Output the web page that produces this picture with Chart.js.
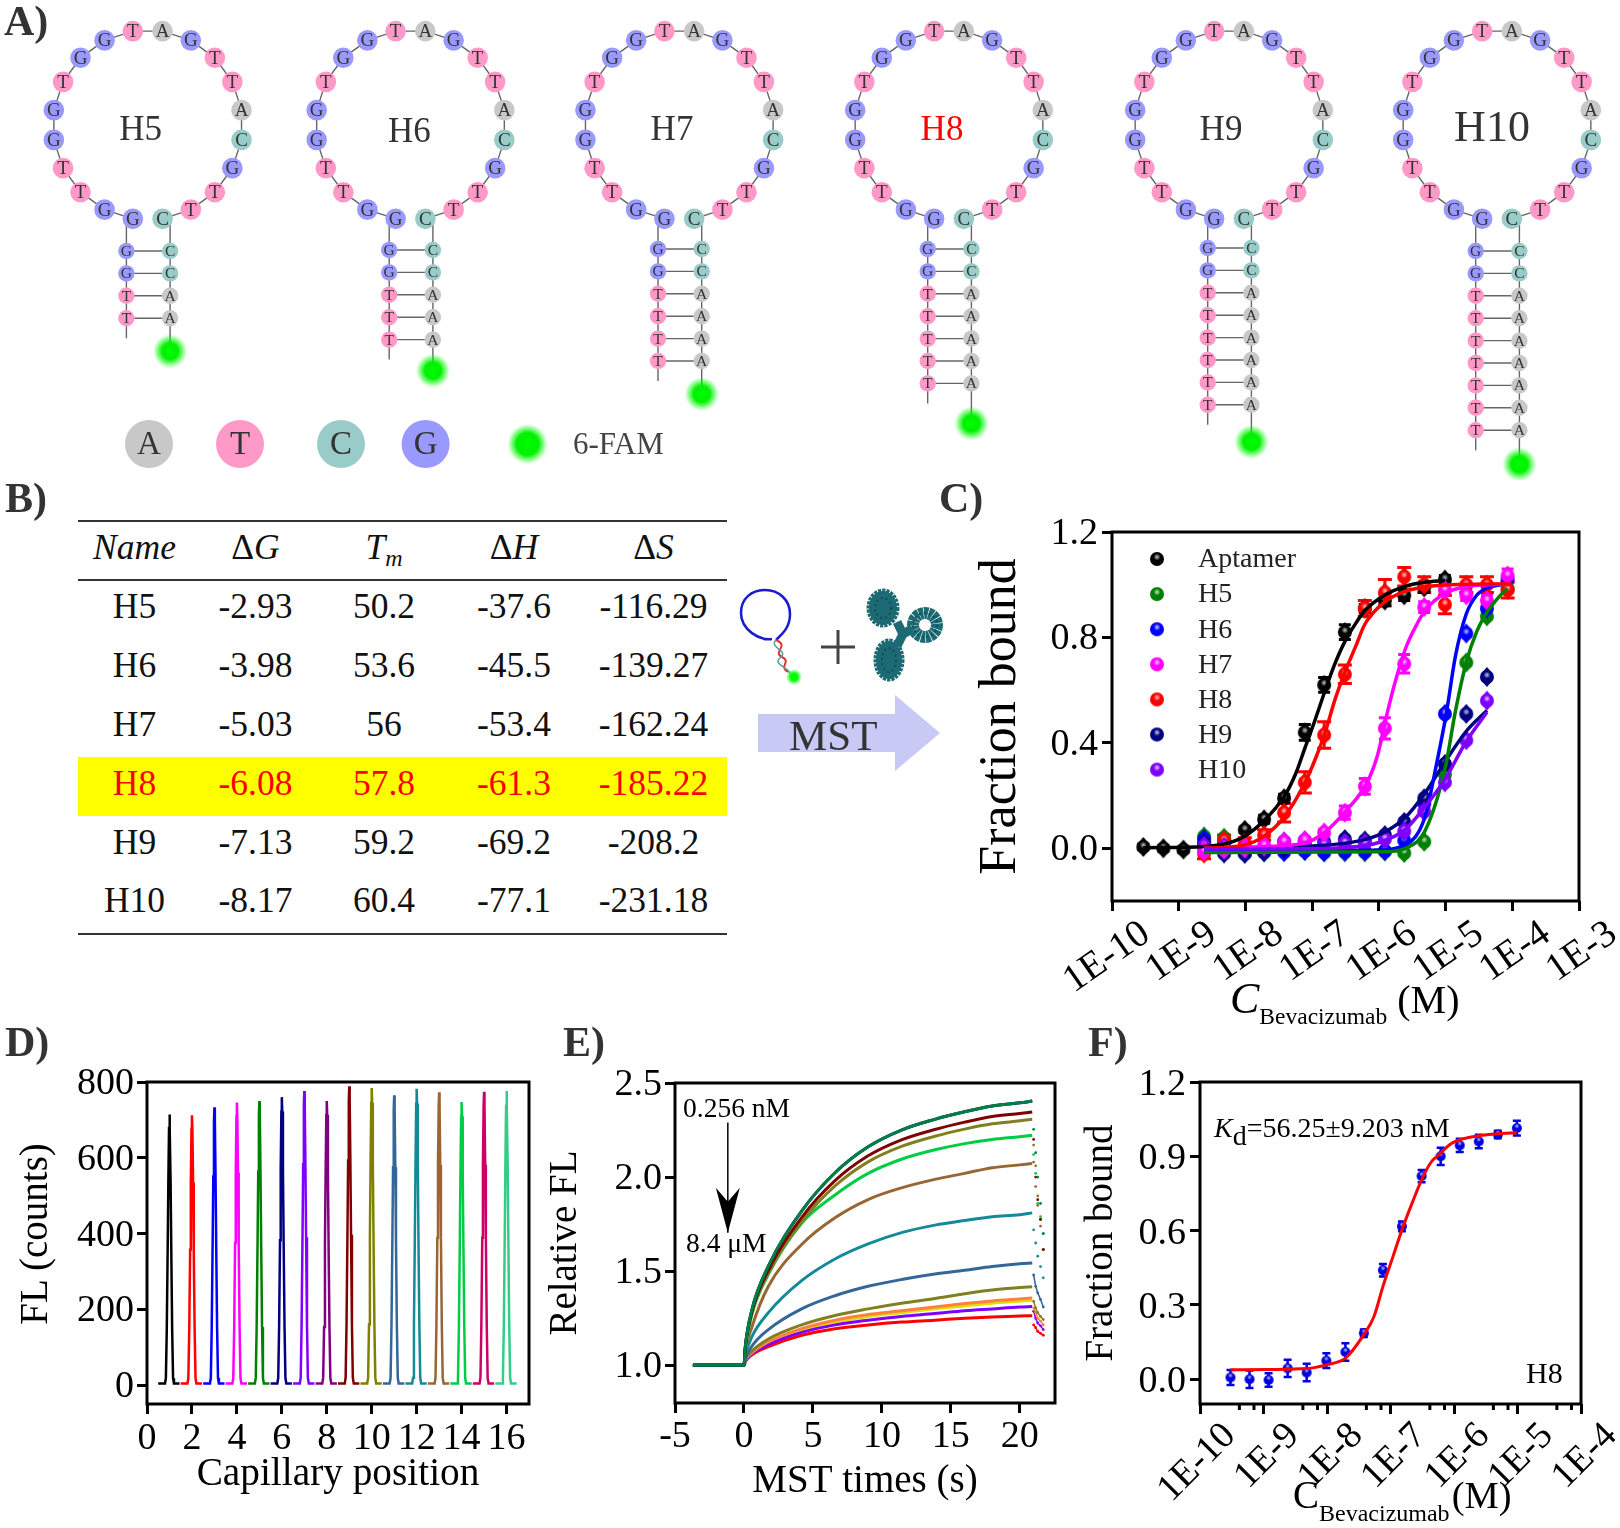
<!DOCTYPE html>
<html>
<head>
<meta charset="utf-8">
<title>Hairpin aptamers</title>
<script src="https://cdn.jsdelivr.net/npm/chart.js@4"></script>
<style>
    html, body { margin: 0; padding: 0; background: #fff; }
    body { position: relative; width: 1620px; height: 1528px; overflow: hidden; font-family: "Liberation Serif", serif; color: #000; }
    canvas, svg, .txt, table { position: absolute; }
    .txt { white-space: nowrap; line-height: 1.15; }
    .panel { font-weight: bold; font-size: 42px; color: #333; }
    .hp { color: #333; transform: translate(-50%, -50%); }
    table { left: 78px; top: 520px; width: 649px; border-collapse: collapse; table-layout: fixed; font-size: 35.5px; color: #111; border-top: 2px solid #333; border-bottom: 2px solid #333; }
    th, td { box-sizing: border-box; padding: 0 0 6px 0; text-align: center; font-weight: normal; height: 59px; line-height: 1; }
    th { border-bottom: 2px solid #333; }
    tr.hit td { background: #ffff00; color: #ff0000; }
    .sub-m { font-size: 24px; font-style: italic; position: relative; top: 7px; }
</style>
</head>
<body>
<canvas id="chartA" width="1620" height="480" style="left:0;top:0"></canvas>
<canvas id="chartC" width="650" height="485" style="left:970px;top:515px"></canvas>
<canvas id="chartD" width="540" height="442" style="left:6px;top:1060px"></canvas>
<canvas id="chartE" width="533" height="449" style="left:542px;top:1060px"></canvas>
<canvas id="chartF" width="542" height="468" style="left:1078px;top:1060px"></canvas>

<table id="energyTable">
    <colgroup><col style="width:113px"><col style="width:129px"><col style="width:128px"><col style="width:132px"><col style="width:147px"></colgroup>
    <thead><tr><th><i>Name</i></th><th>Δ<i>G</i></th><th><i>T</i><span class="sub-m">m</span></th><th>Δ<i>H</i></th><th>Δ<i>S</i></th></tr></thead>
    <tbody></tbody>
</table>

<!-- MST schematic -->
<svg width="1620" height="1528" style="left:0;top:0;pointer-events:none">
    <defs>
        <radialGradient id="dot"><stop offset="45%" stop-color="#00ff00"/><stop offset="100%" stop-color="#00ff00" stop-opacity="0"/></radialGradient>
    </defs>
    <path d="M772 639 C760 641 741 630 741 613 C741 598 752 590 765 590 C779 590 790 600 790 614 C790 628 782 634 776 640" fill="none" stroke="#1a1ad0" stroke-width="2.5"/>
    <path d="M776 640 C790 646 772 652 782 657 C792 662 778 666 788 672" fill="none" stroke="#e03030" stroke-width="2"/>
    <path d="M776 640 C768 648 790 650 780 658 C772 664 790 668 790 674" fill="none" stroke="#50a0a0" stroke-width="1.5"/>
    <circle cx="794" cy="677" r="8" fill="url(#dot)"/>
    <path d="M838 630V664M821 647H855" stroke="#444" stroke-width="3"/>
    <g fill="#1d6a74" stroke="#1d6a74" stroke-dasharray="3 1">
        <ellipse cx="883" cy="608" rx="14" ry="17" stroke-width="5"/>
        <ellipse cx="889" cy="660" rx="13" ry="19" stroke-width="5"/>
        <path d="M897 622L903 634L912 629M903 634L897 646" fill="none" stroke-width="9" stroke-dasharray="none"/>
        <ellipse cx="925" cy="625" rx="12" ry="12" fill="none" stroke-width="12" stroke-dasharray="4 0.6"/>
    </g>
    <g fill="none" stroke="#0f4d57" stroke-width="2" stroke-dasharray="2 3">
        <ellipse cx="883" cy="608" rx="8" ry="10"/>
        <ellipse cx="889" cy="660" rx="7" ry="12"/>
        <ellipse cx="925" cy="625" rx="12" ry="12"/>
    </g>
    <path d="M758 714H895V695L940 733L895 771V752H758Z" fill="#c9c9f6"/>
</svg>
<div class="txt" style="left:789px;top:711px;font-size:43px;color:#333">MST</div>

<div class="txt panel" style="left:4px;top:-3px">A)</div>
<div class="txt panel" style="left:5px;top:474px">B)</div>
<div class="txt panel" style="left:939px;top:474px">C)</div>
<div class="txt panel" style="left:5px;top:1018px">D)</div>
<div class="txt panel" style="left:563px;top:1018px">E)</div>
<div class="txt panel" style="left:1088px;top:1018px">F)</div>

<div class="txt" style="left:573px;top:426px;font-size:31px;color:#444">6-FAM</div>

<div class="txt" style="left:34px;top:1234px;font-size:39px;transform:translate(-50%,-50%) rotate(-90deg)">FL (counts)</div>
<div class="txt" style="left:1230px;top:974px;font-size:44px"><i>C</i><span style="font-size:23.5px;position:relative;top:11px">Bevacizumab</span><span style="margin-left:10px;font-size:40px">(M)</span></div>
<div class="txt" style="left:1293px;top:1473px;font-size:39px">C<span style="font-size:24px;position:relative;top:13px">Bevacizumab</span><span style="font-size:38.5px;margin-left:2px">(M)</span></div>
<div class="txt" style="left:1214px;top:1112px;font-size:28px"><i>K</i><span style="position:relative;top:8px">d</span>=56.25±9.203 nM</div>
<div class="txt" style="left:1526px;top:1356px;font-size:30px">H8</div>
<div class="txt" style="left:683px;top:1092px;font-size:27.5px">0.256 nM</div>
<div class="txt" style="left:686px;top:1227px;font-size:27.5px">8.4 μM</div>

<script>
// ---------- panel A: hairpins ----------
const hairpinNames = ["H5", "H6", "H7", "H8", "H9", "H10"];
const loopSequence = "GGTTGGTGGTAGTTACGTTC";
const stemLeft = ["GGTT", "GGTTT", "GGTTTT", "GGTTTTT", "GGTTTTTT", "GGTTTTTTT"];
const stemRight = ["CCAA", "CCAAA", "CCAAAA", "CCAAAAA", "CCAAAAAA", "CCAAAAAAA"];
const legendBases = ["A", "T", "C", "G"];

// ---------- panel B: table ----------
const tableNames = ["H5", "H6", "H7", "H8", "H9", "H10"];
const deltaG = ["-2.93", "-3.98", "-5.03", "-6.08", "-7.13", "-8.17"];
const meltTemp = ["50.2", "53.6", "56", "57.8", "59.2", "60.4"];
const deltaH = ["-37.6", "-45.5", "-53.4", "-61.3", "-69.2", "-77.1"];
const deltaS = ["-116.29", "-139.27", "-162.24", "-185.22", "-208.2", "-231.18"];

// ---------- panel C: binding curves, x is log10(M) ----------
const seriesC = ["Aptamer", "H5", "H6", "H7", "H8", "H9", "H10"];
const logAptamer = [-9.53, -9.23, -8.93, -8.62, -8.32, -8.01, -7.72, -7.42, -7.11, -6.82, -6.51, -6.21, -5.91, -5.62, -5.32, -5.01];
const logHairpin = [-8.62, -8.32, -8.01, -7.72, -7.42, -7.11, -6.82, -6.51, -6.21, -5.91, -5.62, -5.32, -5.01, -4.69, -4.38, -4.07];
const ptsAptamer = [0.005, 0, -0.005, 0.013, 0.03, 0.07, 0.11, 0.19, 0.44, 0.62, 0.82, 0.91, 0.94, 0.96, 0.99, 1.02];
const ptsH5 = [0.045, 0.04, -0.01, -0.015, 0.025, -0.01, -0.015, -0.015, -0.015, -0.012, -0.018, 0.025, 0.28, 0.705, 0.88, 0.985];
const ptsH6 = [0.035, 0.02, -0.02, -0.015, -0.015, -0.01, -0.015, -0.012, -0.012, -0.01, 0.03, 0.17, 0.51, 0.815, 0.91, 1.02];
const ptsH7 = [-0.01, -0.005, 0, 0.01, 0.025, 0.03, 0.06, 0.135, 0.235, 0.455, 0.7, 0.915, 0.98, 0.96, 0.94, 1.035];
const ptsH8 = [-0.02, 0.03, 0.02, 0.05, 0.135, 0.25, 0.43, 0.66, 0.91, 0.97, 1.03, 1.0, 0.925, 1.0, 1.0, 0.98];
const ptsH9 = [0.02, -0.02, -0.02, -0.012, 0, 0.02, 0.025, 0.035, 0.03, 0.05, 0.1, 0.19, 0.32, 0.51, 0.65];
const ptsH10 = [0.01, 0.005, 0, 0.005, 0.025, 0.03, 0.015, 0.02, 0.02, 0.035, 0.065, 0.14, 0.25, 0.41, 0.56];
const errAptamer = [0.01, 0.01, 0.01, 0.01, 0.01, 0.01, 0.015, 0.015, 0.03, 0.028, 0.028, 0.015, 0.02, 0.02, 0.02, 0.015];
const errH8 = [0.02, 0.02, 0.02, 0.02, 0.035, 0.04, 0.05, 0.035, 0.03, 0.05, 0.035, 0.03, 0.035, 0.03, 0.03, 0.03];
const errSmall = [0.015, 0.015, 0.01, 0.01, 0.01, 0.01, 0.01, 0.01, 0.01, 0.01, 0.01, 0.015, 0.015, 0.015, 0.015, 0.015];
const errH7 = [0.01, 0.01, 0.01, 0.01, 0.01, 0.01, 0.01, 0.025, 0.03, 0.04, 0.035, 0.02, 0.02, 0.02, 0.02, 0.025];

const fitAptamerX = [-9.53, -9.23, -8.93, -8.62, -8.32, -8.01, -7.72, -7.42, -7.25, -7.11, -6.96, -6.82, -6.67, -6.51, -6.34, -6.21, -5.91, -5.62, -5.32, -5.01];
const fitAptamerY = [0.002, 0.003, 0.004, 0.007, 0.016, 0.046, 0.105, 0.196, 0.281, 0.379, 0.484, 0.588, 0.693, 0.784, 0.856, 0.902, 0.961, 0.993, 1.009, 1.016];
const fitH8X = [-8.62, -8.01, -7.72, -7.42, -7.11, -6.93, -6.8, -6.66, -6.51, -6.34, -6.21, -5.91, -5.62, -5.32, -5.01, -4.0];
const fitH8Y = [0, 0.013, 0.046, 0.118, 0.248, 0.353, 0.444, 0.562, 0.667, 0.771, 0.85, 0.935, 0.974, 0.991, 0.999, 1.003];
const fitH7X = [-8.62, -7.71, -7.11, -6.82, -6.51, -6.18, -6.02, -5.89, -5.76, -5.6, -5.43, -5.29, -5.01, -4.69, -4.38, -4.07];
const fitH7Y = [0, 0.007, 0.02, 0.059, 0.137, 0.248, 0.353, 0.497, 0.627, 0.758, 0.85, 0.908, 0.967, 0.993, 1.0, 1.003];
const fitH6X = [-8.62, -6.08, -5.6, -5.31, -5.14, -4.99, -4.85, -4.69, -4.53, -4.38, -4.07];
const fitH6Y = [-0.01, -0.007, 0.013, 0.118, 0.314, 0.51, 0.732, 0.889, 0.961, 0.987, 1.004];
const fitH5X = [-8.62, -5.89, -5.6, -5.31, -5.01, -4.85, -4.69, -4.53, -4.38, -4.2, -4.07];
const fitH5Y = [-0.016, -0.013, 0, 0.065, 0.3, 0.523, 0.706, 0.824, 0.895, 0.954, 0.987];
const fitH9X = [-8.62, -7.38, -6.73, -6.21, -5.89, -5.6, -5.31, -5.01, -4.69, -4.38];
const fitH9Y = [-0.003, 0.003, 0.013, 0.033, 0.065, 0.118, 0.209, 0.327, 0.444, 0.523];
const fitH10X = [-8.62, -6.73, -6.08, -5.76, -5.6, -5.31, -5.01, -4.69, -4.38];
const fitH10Y = [-0.003, 0, 0.016, 0.046, 0.072, 0.157, 0.261, 0.405, 0.516];

const logTicksC = [-10, -9, -8, -7, -6, -5, -4, -3];
const fracTicksC = [0, 0.4, 0.8, 1.2];

// ---------- panel D: capillary scan ----------
const capillaries = [1, 2, 3, 4, 5, 6, 7, 8, 9, 10, 11, 12, 13, 14, 15, 16];
const peakHeights = [714, 712, 733, 746, 750, 760, 776, 750, 789, 784, 765, 782, 773, 747, 774, 776];
const peakOffsets = [-0.5, -0.2, -0.16, -0.12, -0.08, -0.05, -0.02, 0, 0.02, 0.05, 0.08, 0.12, 0.16, 0.2, 0.45];
const peakShape = [0, 0, 0.02, 0.2, 0.5, 0.75, 0.95, 1, 0.95, 0.75, 0.5, 0.2, 0.02, 0, 0];
const peakColors = ["#000000", "#ff0000", "#0000ff", "#ff00ff", "#008000", "#000080", "#8000ff", "#800080", "#800000", "#808000", "#336699", "#148a99", "#996633", "#00cc44", "#cc0066", "#33cc88"];
const ticksDx = [0, 2, 4, 6, 8, 10, 12, 14, 16];
const ticksDy = [0, 200, 400, 600, 800];

// ---------- panel E: MST traces ----------
const mstTimes = [-3.7, -1, 0, 0.1, 0.56, 1.77, 4.18, 6.6, 9, 11.42, 13.84, 16, 18, 20, 20.9];
const traceTop = [1, 1, 1, 1.10, 1.29, 1.527, 1.819, 2.023, 2.161, 2.25, 2.307, 2.347, 2.378, 2.395, 2.404];
const traceMaroon = [1, 1, 1, 1.098, 1.28, 1.505, 1.785, 1.981, 2.113, 2.198, 2.253, 2.292, 2.322, 2.338, 2.346];
const traceOlive = [1, 1, 1, 1.093, 1.275, 1.49, 1.762, 1.953, 2.081, 2.163, 2.217, 2.255, 2.283, 2.299, 2.307];
const traceLime = [1, 1, 1, 1.085, 1.265, 1.483, 1.755, 1.905, 2.02, 2.095, 2.145, 2.178, 2.2, 2.215, 2.223];
const traceBrown = [1, 1, 1, 1.075, 1.2, 1.42, 1.642, 1.784, 1.881, 1.943, 1.988, 2.02, 2.05, 2.065, 2.073];
const traceTeal = [1, 1, 1, 1.05, 1.15, 1.28, 1.45, 1.565, 1.645, 1.705, 1.745, 1.77, 1.79, 1.80, 1.81];
const traceSteel = [1, 1, 1, 1.035, 1.10, 1.19, 1.30, 1.37, 1.42, 1.456, 1.485, 1.505, 1.525, 1.54, 1.544];
const traceOlive2 = [1, 1, 1, 1.03, 1.075, 1.14, 1.215, 1.265, 1.30, 1.33, 1.355, 1.38, 1.40, 1.413, 1.418];
const traceOrange = [1, 1, 1, 1.025, 1.065, 1.125, 1.195, 1.24, 1.27, 1.29, 1.31, 1.328, 1.342, 1.353, 1.358];
const traceYellow = [1, 1, 1, 1.023, 1.06, 1.117, 1.185, 1.23, 1.26, 1.28, 1.30, 1.316, 1.33, 1.341, 1.346];
const tracePurple = [1, 1, 1, 1.02, 1.06, 1.11, 1.175, 1.215, 1.24, 1.26, 1.275, 1.29, 1.30, 1.31, 1.312];
const traceRed = [1, 1, 1, 1.02, 1.055, 1.10, 1.16, 1.195, 1.215, 1.23, 1.24, 1.25, 1.257, 1.262, 1.264];
const dropTimes = [21.0, 21.15, 21.3, 21.5, 21.7];
const dropTop = [2.254, 2.13, 2.0, 1.86, 1.70];
const dropMaroon = [2.2, 2.0, 1.88, 1.775, 1.615];
const dropOlive = [2.17, 2.06, 1.9, 1.775, 1.615];
const dropLime = [2.12, 2.02, 1.86, 1.79, 1.70];
const dropBrown = [2.08, 1.95, 1.85, 1.74, 1.615];
const dropTeal = [1.72, 1.65, 1.58, 1.525, 1.465];
const dropSteel = [1.48, 1.42, 1.385, 1.35, 1.31];
const dropOlive2 = [1.34, 1.305, 1.28, 1.26, 1.243];
const dropOrange = [1.305, 1.28, 1.25, 1.235, 1.215];
const dropPurple = [1.287, 1.25, 1.225, 1.21, 1.19];
const dropRed = [1.215, 1.2, 1.18, 1.17, 1.16];
const ticksEx = [-5, 0, 5, 10, 15, 20];
const ticksEy = [1, 1.5, 2, 2.5];

// ---------- panel F: H8 fit ----------
const logF = [-9.52, -9.22, -8.92, -8.62, -8.32, -8.01, -7.71, -7.42, -7.12, -6.82, -6.51, -6.21, -5.91, -5.61, -5.31, -5.01];
const ptsF = [0.007, 0, -0.003, 0.044, 0.027, 0.075, 0.11, 0.186, 0.44, 0.617, 0.82, 0.9, 0.944, 0.96, 0.988, 1.014];
const errF = [0.03, 0.035, 0.027, 0.035, 0.035, 0.03, 0.035, 0.015, 0.025, 0.02, 0.025, 0.035, 0.027, 0.027, 0.015, 0.03];
const fitFX = [-9.52, -8.92, -8.32, -8.01, -7.71, -7.42, -7.26, -7.12, -6.96, -6.82, -6.66, -6.51, -6.37, -6.21, -6.07, -5.91, -5.61, -5.31, -5.01];
const fitFY = [0.038, 0.039, 0.043, 0.058, 0.085, 0.18, 0.253, 0.374, 0.496, 0.603, 0.711, 0.805, 0.873, 0.913, 0.947, 0.967, 0.983, 0.991, 0.995];
const logTicksF = [-10, -9, -8, -7, -6, -5, -4];
const fracTicksF = [0, 0.3, 0.6, 0.9, 1.2];
const minorOffsetsF = [0.62, 0.85];

const SERIF = "'Liberation Serif', serif";
const baseColors = { A: "#c8c8c8", T: "#ff99c8", C: "#99ccc8", G: "#9999ff" };
const seriesColorsC = { Aptamer: "#000000", H5: "#008000", H6: "#0000ff", H7: "#ff00ff", H8: "#ff0000", H9: "#000080", H10: "#8000ff" };

function pairs(xs, ys) {
    return ys.map((y, i) => ({ x: xs[i], y }));
}

// shaded marker used by the binding plots, optional pointed top and bottom
function ball(color, r, tip = 0) {
    const c = document.createElement("canvas");
    const mid = r + 1 + tip;
    c.width = c.height = mid * 2;
    const g = c.getContext("2d");
    g.fillStyle = color;
    g.beginPath();
    g.arc(mid, mid, r, 0, Math.PI * 2);
    g.fill();
    if (tip) {
        g.beginPath();
        g.moveTo(mid, mid - r - tip);
        g.lineTo(mid + r * 0.8, mid - r * 0.5);
        g.lineTo(mid + r * 0.8, mid + r * 0.5);
        g.lineTo(mid, mid + r + tip);
        g.lineTo(mid - r * 0.8, mid + r * 0.5);
        g.lineTo(mid - r * 0.8, mid - r * 0.5);
        g.closePath();
        g.fill();
    }
    const spot = g.createRadialGradient(mid, mid - 2, 0, mid, mid - 2, r * 0.5);
    spot.addColorStop(0, "rgba(255,255,255,0.8)");
    spot.addColorStop(1, "rgba(255,255,255,0)");
    g.fillStyle = spot;
    g.fillRect(0, 0, c.width, c.height);
    return c;
}

// glowing 6-FAM dot
function glow(solid, outer) {
    const c = document.createElement("canvas");
    c.width = c.height = outer * 2;
    const g = c.getContext("2d");
    const rg = g.createRadialGradient(outer, outer, 0, outer, outer, outer);
    rg.addColorStop(0, "#00ff00");
    rg.addColorStop(solid / outer, "#00f000");
    rg.addColorStop(1, "rgba(0,255,0,0)");
    g.fillStyle = rg;
    g.fillRect(0, 0, c.width, c.height);
    return c;
}

// draws the box round the plot area
const framePlugin = {
    id: "frame",
    afterDraw(chart) {
        const { ctx, chartArea: a } = chart;
        ctx.save();
        ctx.strokeStyle = "#000";
        ctx.lineWidth = 3;
        ctx.strokeRect(a.left, a.top, a.right - a.left, a.bottom - a.top);
        ctx.restore();
    }
};

// error bars from dataset.errs
const errorBarPlugin = {
    id: "errorBars",
    beforeDatasetsDraw(chart) {
        const { ctx, scales } = chart;
        chart.data.datasets.forEach((ds) => {
            if (!ds.errs) return;
            ctx.save();
            ctx.strokeStyle = ds.errColor;
            ctx.lineWidth = ds.errWidth;
            ds.data.forEach((p, i) => {
                const e = ds.errs[i];
                const x = scales.x.getPixelForValue(p.x);
                const y0 = scales.y.getPixelForValue(p.y - e);
                const y1 = scales.y.getPixelForValue(p.y + e);
                ctx.beginPath();
                ctx.moveTo(x, y0);
                ctx.lineTo(x, y1);
                ctx.moveTo(x - ds.errCap, y0);
                ctx.lineTo(x + ds.errCap, y0);
                ctx.moveTo(x - ds.errCap, y1);
                ctx.lineTo(x + ds.errCap, y1);
                ctx.stroke();
            });
            ctx.restore();
        });
    }
};

// common options: the plot box is fixed through afterFit so panels line up
function plotOptions(box, xAxis, yAxis) {
    const fixX = (s) => { s.height = box.xHeight; s.paddingLeft = 0; s.paddingRight = 0; };
    const fixY = (s) => { s.width = box.yWidth; s.paddingTop = 0; s.paddingBottom = 0; };
    const axis = (a, fit) => ({
        type: "linear",
        min: a.min,
        max: a.max,
        afterBuildTicks: (s) => { s.ticks = a.ticks.map((v) => ({ value: v })); },
        afterFit: fit,
        border: { display: false },
        grid: { drawOnChartArea: false, tickLength: a.tickLength || 10, tickWidth: 3, tickColor: "#000", lineWidth: 3 },
        ticks: {
            autoSkip: false,
            color: "#000",
            font: { family: SERIF, size: a.font },
            padding: a.padding,
            minRotation: a.rotation || 0,
            maxRotation: a.rotation || 0,
            labelOffset: a.labelOffset || 0,
            callback: a.format
        },
        title: a.title ? {
            display: true,
            text: a.title,
            color: "#000",
            font: { family: SERIF, size: a.titleSize },
            padding: { top: 0, bottom: 4 }
        } : { display: false }
    });
    return {
        responsive: false,
        animation: false,
        events: [],
        layout: { autoPadding: false, padding: { top: box.top, right: box.right, left: 0, bottom: 0 } },
        plugins: { legend: { display: false }, tooltip: { enabled: false } },
        scales: { x: axis(xAxis, fixX), y: axis(yAxis, fixY) }
    };
}

// ---------- table ----------
const tbody = document.querySelector("#energyTable tbody");
tableNames.forEach((name, i) => {
    const tr = document.createElement("tr");
    if (name === "H8") tr.className = "hit";
    [name, deltaG[i], meltTemp[i], deltaH[i], deltaS[i]].forEach((t) => {
        const td = document.createElement("td");
        td.textContent = t;
        tr.appendChild(td);
    });
    tbody.appendChild(tr);
});

// ---------- panel A: build nodes ----------
const loopCenterX = [147.7, 410.5, 679.3, 949, 1229, 1497];
const loopCenterY = 125;
const loopRadius = 95;
const stemFirstRow = [251, 250, 249, 249, 248, 251];
const stemRowStep = 22.4;
const famDrop = [33, 31, 33, 40, 37, 34];
const labelX = [140.6, 409.4, 672, 942, 1221, 1492];
const labelY = [129, 131, 129, 129, 129, 127];
const labelSize = [35, 35, 35, 35, 35, 44];

const bonds = [];
const loopNodes = [];
const stemNodes = [];
const famNodes = [];
hairpinNames.forEach((name, h) => {
    const cx = loopCenterX[h];
    const rows = stemLeft[h].length;
    const lx = cx - 21.3;
    const rx = cx + 22.4;
    const lastRow = stemFirstRow[h] + stemRowStep * (rows - 1);
    const gap = () => bonds.push({ x: 0, y: null });

    [...loopSequence].forEach((b, i) => {
        const a = (9 + 18 * i) * Math.PI / 180;
        const p = { x: cx - loopRadius * Math.sin(a), y: loopCenterY + loopRadius * Math.cos(a), base: b };
        loopNodes.push(p);
        bonds.push({ x: p.x, y: p.y });
    });
    gap();
    bonds.push({ x: lx, y: 219 }, { x: lx, y: lastRow + 20 });
    gap();
    bonds.push({ x: rx, y: 219 }, { x: rx, y: lastRow + famDrop[h] });
    gap();
    for (let r = 0; r < rows; r++) {
        const y = stemFirstRow[h] + stemRowStep * r;
        stemNodes.push({ x: lx, y, base: stemLeft[h][r] }, { x: rx, y, base: stemRight[h][r] });
        bonds.push({ x: lx, y }, { x: rx, y });
        gap();
    }
    famNodes.push({ x: rx, y: lastRow + famDrop[h] });

    const div = document.createElement("div");
    div.className = "txt hp";
    div.textContent = name;
    div.style.cssText = `left:${labelX[h]}px;top:${labelY[h]}px;font-size:${labelSize[h]}px;color:${name === "H8" ? "#ff0000" : "#333"}`;
    document.body.appendChild(div);
});
const legendNodes = legendBases.map((b, i) => ({ x: [149, 240, 341, 425.6][i], y: 444, base: b }));

const letterPlugin = {
    id: "letters",
    afterDatasetsDraw(chart) {
        const { ctx } = chart;
        chart.data.datasets.forEach((ds, di) => {
            if (!ds.letterFont) return;
            ctx.save();
            ctx.font = ds.letterFont;
            ctx.fillStyle = "#333";
            ctx.textAlign = "center";
            ctx.textBaseline = "middle";
            chart.getDatasetMeta(di).data.forEach((el, i) => {
                ctx.fillText(ds.data[i].base, el.x, el.y + 1);
            });
            ctx.restore();
        });
    }
};

const nodeColors = (list) => list.map((p) => baseColors[p.base]);

new Chart(document.getElementById("chartA"), {
    type: "scatter",
    data: {
        datasets: [
            { data: bonds, showLine: true, borderColor: "#666", borderWidth: 1.4, pointRadius: 0, order: 9 },
            { data: loopNodes, pointRadius: 10.3, pointBackgroundColor: nodeColors(loopNodes), pointBorderWidth: 0, letterFont: "19px " + SERIF, order: 3 },
            { data: stemNodes, pointRadius: 8.2, pointBackgroundColor: nodeColors(stemNodes), pointBorderWidth: 0, letterFont: "15.5px " + SERIF, order: 3 },
            { data: legendNodes, pointRadius: 24, pointBackgroundColor: nodeColors(legendNodes), pointBorderWidth: 0, letterFont: "33px " + SERIF, order: 3 },
            { data: famNodes, pointRadius: 17, pointStyle: glow(8, 17), order: 2 },
            { data: [{ x: 527.5, y: 444 }], pointRadius: 20, pointStyle: glow(11, 20), order: 2 }
        ]
    },
    options: {
        responsive: false,
        animation: false,
        events: [],
        clip: false,
        layout: { autoPadding: false, padding: 0 },
        plugins: { legend: { display: false }, tooltip: { enabled: false } },
        scales: {
            x: { type: "linear", display: false, min: 0, max: 1620 },
            y: { type: "linear", display: false, min: 0, max: 480, reverse: true }
        }
    },
    plugins: [letterPlugin]
});

// ---------- panel C ----------
const MARK_C = 7;
function pointsC(name, xs, ys, errs, cap) {
    const color = seriesColorsC[name];
    return {
        data: pairs(xs, ys),
        errs,
        errColor: color,
        errWidth: 3,
        errCap: cap,
        pointRadius: MARK_C,
        pointStyle: ball(color, MARK_C, 3),
        showLine: false,
        order: 5,
        clip: false
    };
}
function fitLine(color, xs, ys, order, width = 3.5) {
    return {
        data: pairs(xs, ys),
        showLine: true,
        pointRadius: 0,
        borderColor: color,
        borderWidth: width,
        cubicInterpolationMode: "monotone",
        order
    };
}

const legendPluginC = {
    id: "legendC",
    afterDraw(chart) {
        const { ctx, chartArea: a } = chart;
        ctx.save();
        ctx.font = "28px " + SERIF;
        ctx.fillStyle = "#222";
        ctx.textBaseline = "middle";
        seriesC.forEach((name, i) => {
            const y = a.top + 27 + i * 35.1;
            ctx.drawImage(ball(seriesColorsC[name], MARK_C), a.left + 37, y - MARK_C - 1);
            ctx.fillText(name, a.left + 86, y + 1);
        });
        ctx.restore();
    }
};

new Chart(document.getElementById("chartC"), {
    type: "scatter",
    data: {
        datasets: [
            fitLine(seriesColorsC.H10, fitH10X, fitH10Y, 1),
            fitLine(seriesColorsC.H8, fitH8X, fitH8Y, 2),
            fitLine(seriesColorsC.Aptamer, fitAptamerX, fitAptamerY, 3),
            fitLine(seriesColorsC.H7, fitH7X, fitH7Y, 2),
            fitLine(seriesColorsC.H5, fitH5X, fitH5Y, 2),
            fitLine(seriesColorsC.H6, fitH6X, fitH6Y, 3),
            fitLine(seriesColorsC.H9, fitH9X, fitH9Y, 4),
            pointsC("H7", logHairpin, ptsH7, errH7, 6),
            pointsC("H10", logHairpin, ptsH10, errSmall, 4),
            pointsC("H9", logHairpin, ptsH9, errSmall, 4),
            pointsC("H8", logHairpin, ptsH8, errH8, 7),
            pointsC("H6", logHairpin, ptsH6, errSmall, 4),
            pointsC("H5", logHairpin, ptsH5, errSmall, 4),
            pointsC("Aptamer", logAptamer, ptsAptamer, errAptamer, 6)
        ]
    },
    options: plotOptions(
        { yWidth: 142, xHeight: 99, top: 17, right: 41 },
        { min: -10, max: -3, ticks: logTicksC, font: 39, padding: 0, rotation: 35, labelOffset: 34, format: (v) => "1E" + v },
        { min: -0.2, max: 1.2, ticks: fracTicksC, font: 38, padding: 4, labelOffset: 2, format: (v) => v.toFixed(1), title: "Fraction bound", titleSize: 52 }
    ),
    plugins: [framePlugin, errorBarPlugin, legendPluginC]
});

// ---------- panel D ----------
new Chart(document.getElementById("chartD"), {
    type: "scatter",
    data: {
        datasets: capillaries.map((pos, i) => ({
            data: peakOffsets.map((o, k) => ({ x: pos + o, y: 4 + peakShape[k] * (peakHeights[i] - 4) })),
            showLine: true,
            pointRadius: 0,
            borderColor: peakColors[i],
            borderWidth: 2.5
        }))
    },
    options: plotOptions(
        { yWidth: 141, xHeight: 98, top: 22, right: 17 },
        { min: 0, max: 17, ticks: ticksDx, font: 38, padding: 2, format: (v) => String(v), title: "Capillary position", titleSize: 39.3 },
        { min: -50, max: 800, ticks: ticksDy, font: 38, padding: 3, labelOffset: 2, format: (v) => String(v) }
    ),
    plugins: [framePlugin]
});

// ---------- panel E ----------
const traces = [
    ["#e0e000", traceYellow, null],
    ["#ff0000", traceRed, dropRed],
    ["#8000ff", tracePurple, dropPurple],
    ["#ff8040", traceOrange, dropOrange],
    ["#808020", traceOlive2, dropOlive2],
    ["#336699", traceSteel, dropSteel],
    ["#148a99", traceTeal, dropTeal],
    ["#996633", traceBrown, dropBrown],
    ["#00cc44", traceLime, dropLime],
    ["#808020", traceOlive, dropOlive],
    ["#800000", traceMaroon, dropMaroon],
    ["#000080", traceTop, null],
    ["#008040", traceTop, dropTop]
];
const arrowPluginE = {
    id: "arrowE",
    afterDraw(chart) {
        const { ctx, scales } = chart;
        const x = scales.x.getPixelForValue(-1.17);
        const top = scales.y.getPixelForValue(2.29);
        const back = scales.y.getPixelForValue(1.943);
        const tip = scales.y.getPixelForValue(1.704);
        ctx.save();
        ctx.strokeStyle = "#000";
        ctx.lineWidth = 1.5;
        ctx.beginPath();
        ctx.moveTo(x, top);
        ctx.lineTo(x, tip);
        ctx.stroke();
        ctx.fillStyle = "#000";
        ctx.beginPath();
        ctx.moveTo(x - 12, back);
        ctx.lineTo(x, back + 14);
        ctx.lineTo(x + 12, back);
        ctx.lineTo(x, tip);
        ctx.closePath();
        ctx.fill();
        ctx.restore();
    }
};
const traceSets = [];
traces.forEach(([color, values, drop], i) => {
    traceSets.push({
        data: pairs(mstTimes, values),
        showLine: true,
        pointRadius: 0,
        borderColor: color,
        borderWidth: 3,
        cubicInterpolationMode: "monotone",
        order: traces.length - i
    });
    if (drop) {
        traceSets.push({
            data: pairs(dropTimes, drop),
            showLine: values[values.length - 1] < 1.6,
            pointRadius: 1.4,
            pointBorderWidth: 0,
            pointBackgroundColor: color,
            borderColor: color,
            borderWidth: 1.5,
            order: traces.length - i
        });
    }
});
new Chart(document.getElementById("chartE"), {
    type: "scatter",
    data: { datasets: traceSets },
    options: plotOptions(
        { yWidth: 133, xHeight: 106, top: 23, right: 20 },
        { min: -5, max: 22.55, ticks: ticksEx, font: 38, padding: 1, format: (v) => String(v), title: "MST times (s)", titleSize: 39 },
        { min: 0.8, max: 2.5, ticks: ticksEy, font: 38, padding: 3, labelOffset: 2, format: (v) => v.toFixed(1), title: "Relative FL", titleSize: 39 }
    ),
    plugins: [framePlugin, arrowPluginE]
});

// ---------- panel F ----------
const minorTicksPlugin = {
    id: "minorTicks",
    afterDraw(chart) {
        const { ctx, scales, chartArea: a } = chart;
        ctx.save();
        ctx.strokeStyle = "#000";
        ctx.lineWidth = 3;
        logTicksF.slice(0, -1).forEach((t) => {
            minorOffsetsF.forEach((o) => {
                const x = scales.x.getPixelForValue(t + o);
                ctx.beginPath();
                ctx.moveTo(x, a.bottom);
                ctx.lineTo(x, a.bottom + 6);
                ctx.stroke();
            });
        });
        ctx.restore();
    }
};
new Chart(document.getElementById("chartF"), {
    type: "scatter",
    data: {
        datasets: [
            fitLine("#ff0000", fitFX, fitFY, 1, 3),
            {
                data: pairs(logF, ptsF),
                errs: errF,
                errColor: "#0000e0",
                errWidth: 2.5,
                errCap: 4,
                pointRadius: 4.5,
                pointStyle: ball("#0000e0", 5),
                showLine: false,
                order: 3
            }
        ]
    },
    options: plotOptions(
        { yWidth: 122, xHeight: 124, top: 22, right: 39 },
        { min: -10, max: -4, ticks: logTicksF, font: 38, padding: 0, rotation: 45, labelOffset: 30, format: (v) => "1E" + v },
        { min: -0.1, max: 1.2, ticks: fracTicksF, font: 38, padding: 4, labelOffset: 3, format: (v) => v.toFixed(1), title: "Fraction bound", titleSize: 39 }
    ),
    plugins: [framePlugin, errorBarPlugin, minorTicksPlugin]
});
</script>
</body>
</html>
